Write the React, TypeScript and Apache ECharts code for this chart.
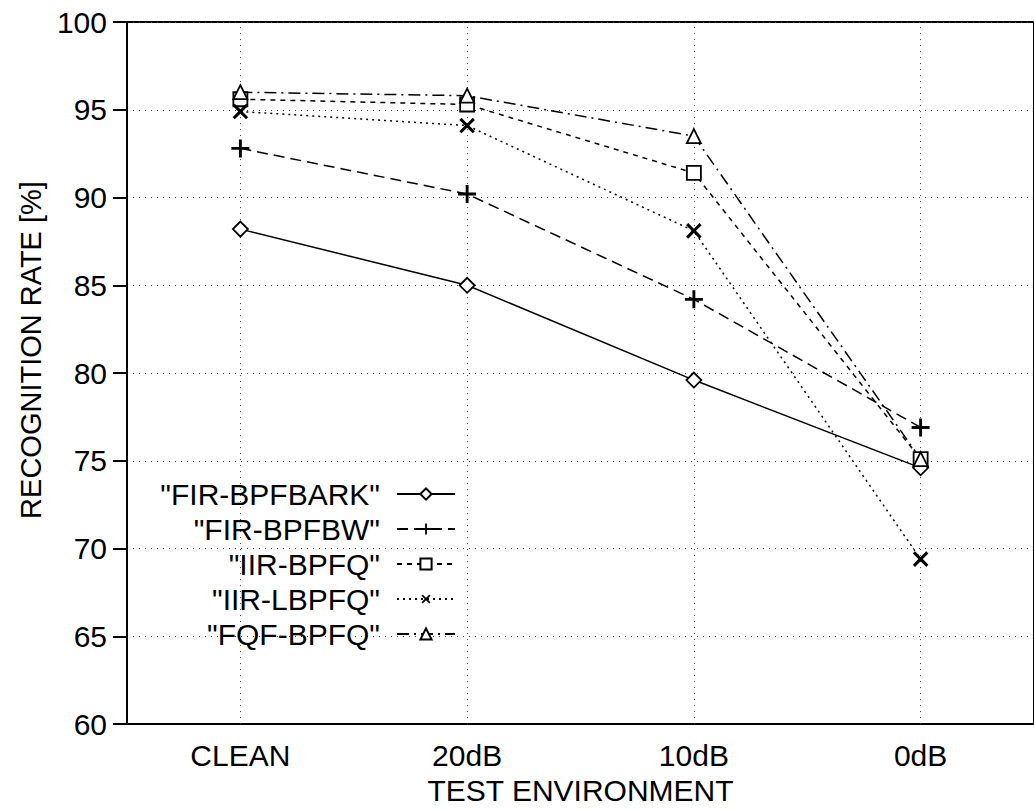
import React, { useEffect, useRef } from "react";
import * as echarts from "echarts";

const categories = ["CLEAN", "20dB", "10dB", "0dB"];
const seriesNames = ['"FIR-BPFBARK"', '"FIR-BPFBW"', '"IIR-BPFQ"', '"IIR-LBPFQ"', '"FQF-BPFQ"'];
const firBark = [88.2, 85.0, 79.6, 74.6];
const firBw = [92.8, 90.2, 84.2, 76.9];
const iirBpfq = [95.6, 95.3, 91.4, 75.1];
const iirLbpfq = [94.9, 94.1, 88.1, 69.4];
const fqfBpfq = [96.0, 95.8, 93.5, 75.1];
const yTicks = { min: 60, max: 100, interval: 5 };

const FONT = '"Liberation Sans", Arial, Helvetica, sans-serif';
const PLUS = "path://M4.2,0H5.8V4.2H10V5.8H5.8V10H4.2V5.8H0V4.2H4.2Z";

export default function App() {
  const ref = useRef<HTMLDivElement>(null);
  useEffect(() => {
    if (!ref.current) return;
    const chart = echarts.init(ref.current, undefined, { renderer: "svg" });
    const values = [firBark, firBw, iirBpfq, iirLbpfq, fqfBpfq];
    const styles = [
      { type: "solid", symbol: "diamond", size: 15, rotate: 0, hollow: true },
      { type: [11, 6], symbol: PLUS, size: 18, rotate: 0, hollow: false },
      { type: [5, 5], symbol: "rect", size: 14, rotate: 0, hollow: true },
      { type: [2, 4], symbol: PLUS, size: 19, rotate: 45, hollow: false },
      { type: [12, 5, 2, 5], symbol: "triangle", size: 14, rotate: 0, hollow: true },
    ];
    const rowCenters = [496, 531, 566, 601, 636];
    const series = values.map((d, i) => ({
      name: seriesNames[i],
      type: "line",
      data: d,
      symbol: styles[i].symbol,
      symbolSize: styles[i].size,
      symbolRotate: styles[i].rotate,
      showSymbol: true,
      lineStyle: { color: "#000", width: 1.5, type: styles[i].type as any },
      itemStyle: styles[i].hollow
        ? { color: "#fff", borderColor: "#000", borderWidth: 1.8 }
        : { color: "#000", borderWidth: 0 },
      z: 3,
      ...(i === 0
        ? {
            markLine: {
              silent: true,
              symbol: "none",
              label: { show: false },
              lineStyle: { color: "#444", type: [1, 5], width: 1 },
              data: categories.map((c) => ({ xAxis: c })),
              z: 1,
            },
          }
        : {}),
    }));
    const legends = seriesNames.map((n, i) => ({
      data: [n],
      orient: "horizontal",
      align: "right",
      right: 1034 - 456,
      top: rowCenters[i] - 17,
      itemWidth: 58,
      itemHeight: 14,
      padding: 0,
      selectedMode: false,
      textStyle: {
        fontFamily: FONT,
        fontSize: 30,
        color: "#000",
        padding: [0, 12, 0, 0],
      },
    }));
    chart.setOption({
      animation: false,
      backgroundColor: "#fff",
      grid: {
        left: 127,
        top: 22,
        width: 907,
        bottom: 81,
        show: true,
        borderColor: "#000",
        borderWidth: 2,
        backgroundColor: "transparent",
      },
      legend: legends,
      xAxis: {
        type: "category",
        data: categories,
        boundaryGap: true,
        name: "TEST ENVIRONMENT",
        nameLocation: "middle",
        nameGap: 46,
        nameTextStyle: { fontFamily: FONT, fontSize: 30, color: "#000" },
        axisLine: { lineStyle: { color: "#000", width: 2 } },
        axisTick: { alignWithLabel: true, length: 13, lineStyle: { color: "#000", width: 2 } },
        axisLabel: { fontFamily: FONT, fontSize: 30, color: "#000", margin: 16 },
        splitLine: { show: false },
      },
      yAxis: {
        type: "value",
        min: yTicks.min,
        max: yTicks.max,
        interval: yTicks.interval,
        axisLine: { show: true, lineStyle: { color: "#000", width: 2 } },
        axisTick: { show: true, length: 14, lineStyle: { color: "#000", width: 2 } },
        axisLabel: { fontFamily: FONT, fontSize: 30, color: "#000", margin: 20 },
        splitLine: { show: true, lineStyle: { color: "#444", type: [1, 5], width: 1 } },
      },
      graphic: [
        {
          type: "text",
          x: 31,
          y: 350,
          rotation: Math.PI / 2,
          style: {
            text: "RECOGNITION RATE [%]",
            fontFamily: FONT,
            fontSize: 29,
            fill: "#000",
            align: "center",
            verticalAlign: "middle",
          },
        },
      ],
      series,
    });
    return () => chart.dispose();
  }, []);
  return <div ref={ref} style={{ width: 1034, height: 810, position: "absolute", left: 0, top: 0 }} />;
}
